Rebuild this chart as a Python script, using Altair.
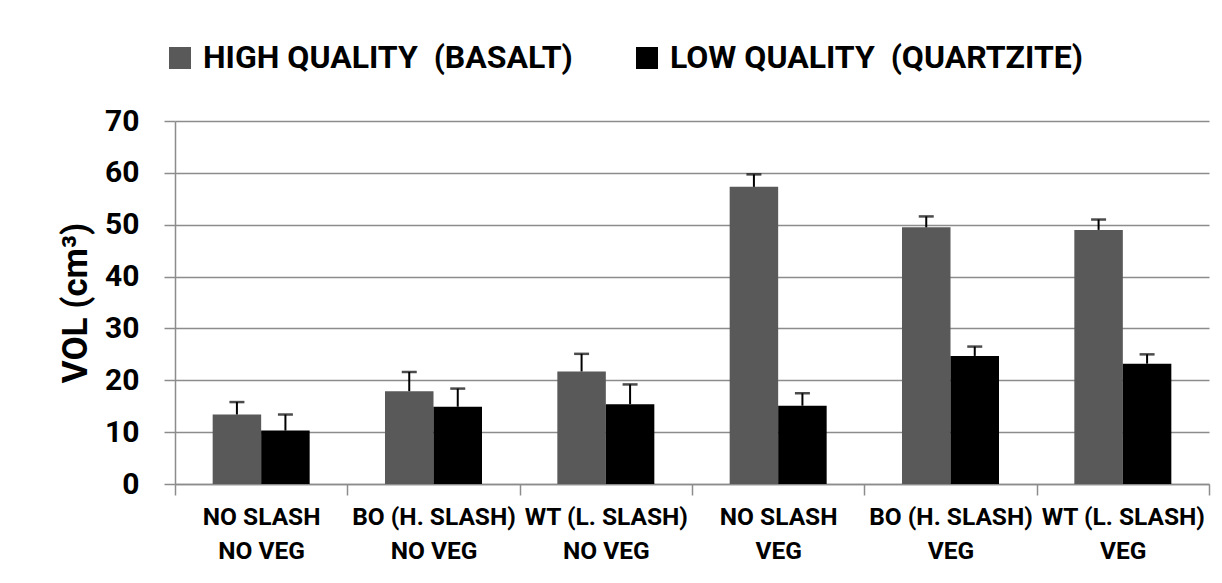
import altair as alt
import pandas as pd

categories = [
    "NO SLASH|NO VEG",
    "BO (H. SLASH)|NO VEG",
    "WT (L. SLASH)|NO VEG",
    "NO SLASH|VEG",
    "BO (H. SLASH)|VEG",
    "WT (L. SLASH)|VEG",
]
series = ["HIGH QUALITY\u00a0 (BASALT)", "LOW QUALITY\u00a0 (QUARTZITE)"]
high = [13.4, 17.9, 21.7, 57.3, 49.5, 49.0]
high_err = [2.4, 3.7, 3.4, 2.4, 2.1, 2.0]
low = [10.3, 14.9, 15.4, 15.1, 24.7, 23.2]
low_err = [3.1, 3.5, 3.8, 2.4, 1.8, 1.8]
y_ticks = [0, 10, 20, 30, 40, 50, 60, 70]

rows = []
for i, c in enumerate(categories):
    rows.append({"cat": c, "series": series[0], "vol": high[i], "top": high[i] + high_err[i]})
    rows.append({"cat": c, "series": series[1], "vol": low[i], "top": low[i] + low_err[i]})
df = pd.DataFrame(rows)

FONT = "Roboto"
GRID = "#8c8c8c"
YTITLE = "VOL (cm³)"

x_enc = alt.X(
    "cat:N",
    sort=categories,
    scale=alt.Scale(paddingInner=0, paddingOuter=0),
    axis=alt.Axis(
        title=None,
        labelExpr="split(datum.label, '|')",
        tickBand="extent",
        labelAngle=0,
        labelFont=FONT,
        labelFontSize=24.5,
        labelFontWeight="bold",
        labelColor="black",
        labelLineHeight=34,
        labelPadding=10,
        labelLimit=400,
        tickSize=11,
        tickColor=GRID,
        tickWidth=1.5,
        domainColor=GRID,
        domainWidth=1.5,
        grid=False,
    ),
)
xoff_enc = alt.XOffset(
    "series:N", sort=series, scale=alt.Scale(paddingInner=0, paddingOuter=0.7766)
)
y_axis = alt.Axis(
    values=y_ticks,
    title=YTITLE,
    titleFont=FONT,
    titleFontSize=35,
    titleFontWeight="bold",
    titleColor="black",
    titleAngle=270,
    titleX=-89,
    titleY=181.5,
    titleBaseline="alphabetic",
    titleAlign="center",
    labelFont=FONT,
    labelFontSize=30,
    labelFontWeight="bold",
    labelColor="black",
    labelPadding=25,
    tickSize=11,
    tickColor=GRID,
    tickWidth=1.5,
    domainColor=GRID,
    domainWidth=1.5,
    grid=True,
    gridColor=GRID,
    gridWidth=1.5,
)
y_scale = alt.Scale(domain=[0, 70], nice=False)

color_enc = alt.Color(
    "series:N",
    sort=series,
    scale=alt.Scale(domain=series, range=["#595959", "#000000"]),
    legend=alt.Legend(title=None),
)

bars = alt.Chart(df).mark_bar().encode(
    x=x_enc,
    xOffset=xoff_enc,
    y=alt.Y("vol:Q", scale=y_scale, axis=y_axis, title=YTITLE),
    color=color_enc,
)
stems = alt.Chart(df).mark_rule(color="black", strokeWidth=2).encode(
    x=x_enc,
    xOffset=xoff_enc,
    y=alt.Y("vol:Q", scale=y_scale, axis=y_axis, title=YTITLE),
    y2="top:Q",
)
caps = alt.Chart(df).mark_tick(color="black", thickness=2.5, size=15, orient="horizontal").encode(
    x=x_enc,
    xOffset=xoff_enc,
    y=alt.Y("top:Q", scale=y_scale, axis=y_axis, title=YTITLE),
)

chart = (
    alt.layer(bars, stems, caps)
    .properties(
        width=1034,
        height=363,
        padding={"left": 167, "top": 113, "right": 5, "bottom": 91},
        autosize=alt.AutoSizeParams(type="none"),
        background="white",
    )
    .configure_view(stroke=None)
    .configure_legend(
        orient="none",
        legendX=-11,
        legendY=-79,
        direction="horizontal",
        padding=0,
        symbolType="square",
        symbolSize=484,
        symbolStrokeWidth=0,
        labelFont=FONT,
        labelFontSize=32,
        labelFontWeight="bold",
        labelColor="black",
        labelOffset=7,
        labelLimit=600,
        columnPadding=58,
    )
)

chart.save("out.html", embed_options={"renderer": "svg", "actions": False})
